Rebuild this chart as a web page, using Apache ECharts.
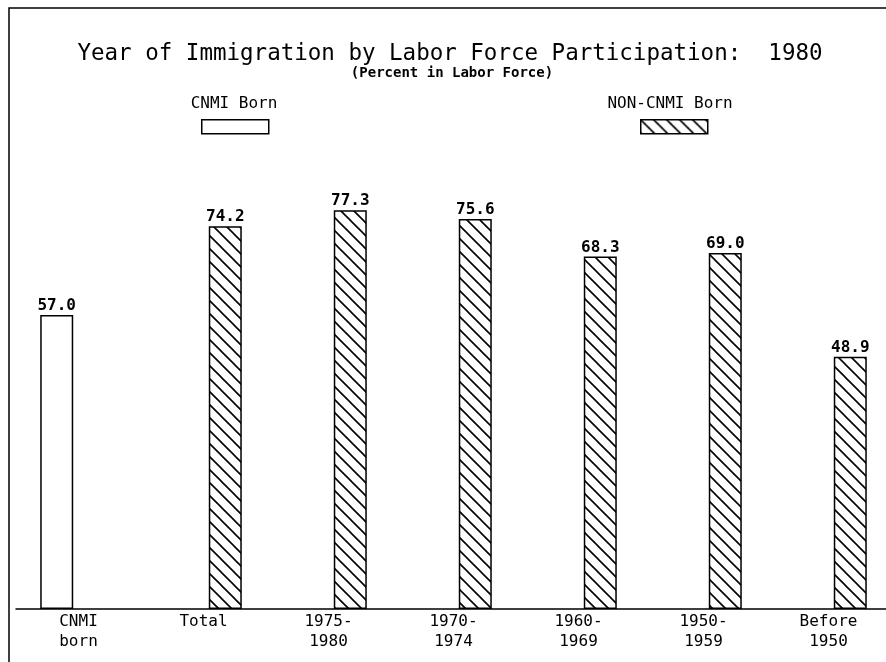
<!DOCTYPE html>
<html>
<head>
<meta charset="utf-8">
<title>Year of Immigration by Labor Force Participation: 1980</title>
<script src="https://cdn.jsdelivr.net/npm/echarts@6/dist/echarts.min.js"></script>
<style>
  html, body { margin: 0; padding: 0; background: #fff; }
  #chart { width: 886px; height: 662px; }
</style>
</head>
<body>
<div id="chart"></div>
<script>
// data
var categories = ['CNMI\nborn', 'Total', '1975-\n1980', '1970-\n1974', '1960-\n1969', '1950-\n1959', 'Before\n1950'];
var cnmiBorn = [57.0, '-', '-', '-', '-', '-', '-'];
var nonCnmiBorn = ['-', 74.2, 77.3, 75.6, 68.3, 69.0, 48.9];
var seriesNames = ['CNMI Born', 'NON-CNMI Born'];

var mono = '"DejaVu Sans Mono", "Liberation Mono", monospace';

// diagonal hatch tile, lines going down to the right
function hatchTile () {
  var s = 13;
  var c = document.createElement('canvas');
  c.width = s;
  c.height = s;
  var g = c.getContext('2d');
  g.fillStyle = '#fff';
  g.fillRect(0, 0, s, s);
  g.strokeStyle = '#000';
  g.lineWidth = 1.6;
  g.beginPath();
  g.moveTo(-2, -2); g.lineTo(s + 2, s + 2);
  g.moveTo(-2, s - 2); g.lineTo(2, s + 2);
  g.moveTo(s - 2, -2); g.lineTo(s + 2, 2);
  g.stroke();
  return c;
}
var hatch = { image: hatchTile(), repeat: 'repeat' };

var chart = echarts.init(document.getElementById('chart'));

var barLabel = {
  show: true,
  position: 'top',
  distance: 1,
  color: '#000',
  fontFamily: mono,
  fontSize: 16,
  fontWeight: 'bold',
  formatter: function (p) { return p.value.toFixed(1); }
};

var option = {
  backgroundColor: '#fff',
  animation: false,
  title: [{
    text: 'Year of Immigration by Labor Force Participation:  1980',
    left: 450,
    top: 43,
    padding: 0,
    textAlign: 'center',
    textStyle: { fontFamily: mono, fontSize: 22.5, fontWeight: 'normal', color: '#000' }
  }, {
    text: '(Percent in Labor Force)',
    left: 452,
    top: 66,
    padding: 0,
    textAlign: 'center',
    textStyle: { fontFamily: mono, fontSize: 14, fontWeight: 'bold', color: '#000' }
  }, {
    text: seriesNames[0],
    left: 234,
    top: 96,
    padding: 0,
    textAlign: 'center',
    textStyle: { fontFamily: mono, fontSize: 16, fontWeight: 'normal', color: '#000' }
  }, {
    text: seriesNames[1],
    left: 670,
    top: 96,
    padding: 0,
    textAlign: 'center',
    textStyle: { fontFamily: mono, fontSize: 16, fontWeight: 'normal', color: '#000' }
  }],
  legend: [{
    data: [seriesNames[0]],
    left: 201,
    top: 119,
    padding: 0,
    itemWidth: 67,
    itemHeight: 14,
    icon: 'rect',
    formatter: function () { return ''; },
    itemStyle: { borderColor: '#000', borderWidth: 1.5 }
  }, {
    data: [seriesNames[1]],
    left: 640,
    top: 119,
    padding: 0,
    itemWidth: 67,
    itemHeight: 14,
    icon: 'rect',
    formatter: function () { return ''; },
    itemStyle: { borderColor: '#000', borderWidth: 1.5 }
  }],
  grid: {
    left: 16,
    top: 93,
    width: 875,
    bottom: 53,
    outerBoundsMode: 'none'
  },
  xAxis: {
    type: 'category',
    data: categories,
    axisLine: { show: true, lineStyle: { color: '#000', width: 1.5 } },
    axisTick: { show: false },
    axisLabel: {
      interval: 0,
      margin: 3,
      color: '#000',
      fontFamily: mono,
      fontSize: 16,
      lineHeight: 20
    }
  },
  yAxis: {
    type: 'value',
    min: 0,
    max: 100,
    show: false,
    splitLine: { show: false }
  },
  series: [{
    name: seriesNames[0],
    type: 'bar',
    data: cnmiBorn,
    barWidth: 33,
    barGap: '32%',
    itemStyle: { color: '#fff', borderColor: '#000', borderWidth: 1.5 },
    label: barLabel
  }, {
    name: seriesNames[1],
    type: 'bar',
    data: nonCnmiBorn,
    barWidth: 33,
    barGap: '32%',
    itemStyle: { color: hatch, borderColor: '#000', borderWidth: 1.5 },
    label: barLabel
  }],
  graphic: [{
    type: 'polyline',
    shape: { points: [[9, 662], [9, 8], [886, 8]] },
    style: { stroke: '#000', lineWidth: 1.5, fill: null }
  }]
};

chart.setOption(option);
</script>
</body>
</html>
